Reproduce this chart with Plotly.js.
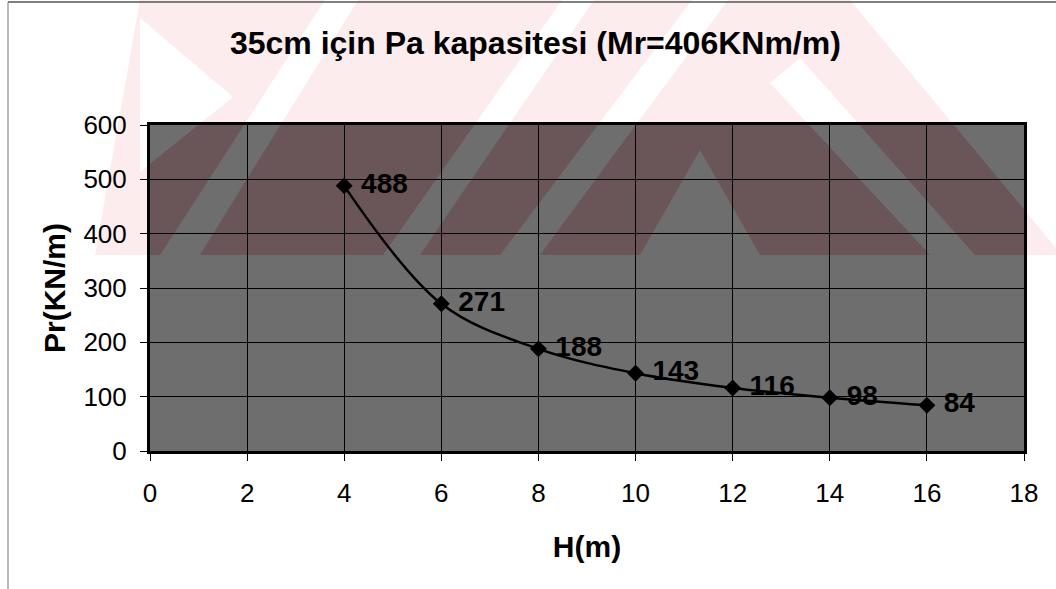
<!DOCTYPE html>
<html>
<head>
<meta charset="utf-8">
<script src="https://cdn.plot.ly/plotly-3.0.1.min.js"></script>
<style>
html,body{margin:0;padding:0;background:#fff;}
#chart{width:1056px;height:589px;}
</style>
</head>
<body>
<div id="chart"></div>
<script>
// ---- data ----
const hValues = [4, 6, 8, 10, 12, 14, 16];          // H (m)
const prValues = [488, 271, 188, 143, 116, 98, 84];  // Pr (KN/m)
const xTickVals = [0, 2, 4, 6, 8, 10, 12, 14, 16, 18];
const yTickVals = [0, 100, 200, 300, 400, 500, 600];
const chartTitle = "35cm için Pa kapasitesi (Mr=406KNm/m)";
const xTitle = "H(m)";
const yTitle = "Pr(KN/m)";

// ---- layout geometry (pixels) ----
const W = 1056, H = 589;
const M = {l: 150, r: 32, t: 125, b: 138};
const PW = W - M.l - M.r, PH = H - M.t - M.b;
const X_MAX = 18, Y_MAX = 600;

// pixel -> paper / data helpers (decoration only)
const pX = px => (px - M.l) / PW;
const pY = py => (H - M.b - py) / PH;
const dX = px => X_MAX * (px - M.l) / PW;
const dY = py => Y_MAX * (H - M.b - py) / PH;

// background watermark (decoration), outlines in pixel coords
const wmEnvelope = [[140,0],[850,0],[1056,248],[1056,255],[95,255]];
const wmHoles = [
  [[140,18],[233,97],[140,172]],
  [[325,0],[358,0],[200,255],[160,255]],
  [[562,0],[594,0],[420,255],[383,255]],
  [[692,0],[728,0],[540,255],[500,255]],
  [[700,150],[760,255],[640,255]],
  [[770,83],[800,58],[975,255],[930,255]]
];
function polyPath(polys, fx, fy){
  return polys.map(p => 'M' + p.map(q => fx(q[0]) + ',' + fy(q[1])).join('L') + 'Z').join(' ');
}
const allPolys = [wmEnvelope].concat(wmHoles);

const shapes = [
  {type:'path', xref:'paper', yref:'paper', layer:'below', fillrule:'evenodd',
   path: polyPath(allPolys, pX, pY), fillcolor:'rgba(235,40,70,0.09)', line:{width:0}},
  {type:'path', xref:'x', yref:'y', layer:'below', fillrule:'evenodd',
   path: polyPath(allPolys, dX, dY), fillcolor:'rgba(40,0,10,0.18)', line:{width:0}},
  // outer frame lines of the scanned page
  {type:'line', xref:'paper', yref:'paper', x0:pX(8), x1:pX(1056), y0:pY(2), y1:pY(2), line:{color:'#555', width:1.5}},
  {type:'line', xref:'paper', yref:'paper', x0:pX(8), x1:pX(8), y0:pY(2), y1:pY(589), line:{color:'#777', width:1}}
];

const trace = {
  x: hValues,
  y: prValues,
  type: 'scatter',
  mode: 'lines+markers+text',
  text: prValues.map(v => '\u00a0' + v),
  textposition: 'middle right',
  textfont: {family: 'Liberation Sans, Arial, sans-serif', size: 28, color: '#000', weight: 'bold'},
  line: {color: '#000', width: 2.5, shape: 'spline', smoothing: 1},
  marker: {symbol: 'diamond', size: 13, color: '#000'},
  cliponaxis: false,
  hoverinfo: 'x+y'
};

const axisFont = {family: 'Liberation Sans, Arial, sans-serif', size: 26, color: '#000'};
const titleFont = {family: 'Liberation Sans, Arial, sans-serif', size: 30, color: '#000', weight: 'bold'};

const layout = {
  width: W, height: H,
  margin: M,
  paper_bgcolor: '#ffffff',
  plot_bgcolor: '#6e6e6e',
  showlegend: false,
  title: {
    text: chartTitle,
    font: {family: 'Liberation Sans, Arial, sans-serif', size: 32, color: '#000', weight: 'bold'},
    xref: 'container', yref: 'container', x: 0.507, xanchor: 'center', y: 1 - 43 / H, yanchor: 'middle'
  },
  xaxis: {
    range: [0, X_MAX], tickvals: xTickVals, ticktext: xTickVals.map(String),
    ticks: 'outside', ticklen: 7, tickwidth: 1, tickcolor: '#000',
    showline: true, linecolor: '#000', linewidth: 3, mirror: true,
    showgrid: true, gridcolor: '#000', gridwidth: 1, zeroline: false,
    tickfont: axisFont, ticklabelstandoff: 10,
    title: {text: xTitle, font: titleFont, standoff: 29}
  },
  yaxis: {
    range: [0, Y_MAX], tickvals: yTickVals, ticktext: yTickVals.map(String),
    ticks: 'outside', ticklen: 7, tickwidth: 1, tickcolor: '#000',
    showline: true, linecolor: '#000', linewidth: 3, mirror: true,
    showgrid: true, gridcolor: '#000', gridwidth: 1, zeroline: false,
    tickfont: axisFont, ticklabelstandoff: 8,
    title: {text: yTitle, font: titleFont, standoff: 9}
  },
  shapes: shapes
};

Plotly.newPlot('chart', [trace], layout, {displayModeBar: false, staticPlot: true});
</script>
</body>
</html>
